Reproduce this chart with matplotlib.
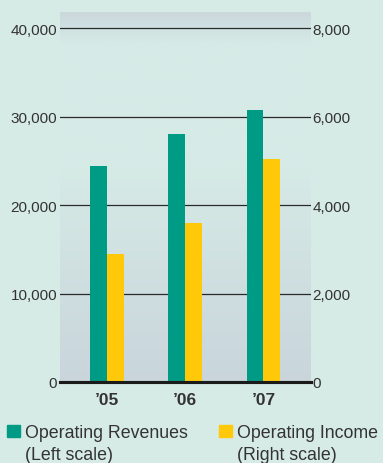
import numpy as np
import matplotlib
matplotlib.use('Agg')
import matplotlib.pyplot as plt
from matplotlib.patches import Rectangle
from matplotlib.colors import to_rgb

plt.rcParams['font.family'] = ['Liberation Sans', 'DejaVu Sans']

# Данные
years = ['\u201905', '\u201906', '\u201907']
revenues = [24400, 28000, 30700]      # левая шкала
op_income = [2900, 3600, 5050]        # правая шкала
left_ticks = [0, 10000, 20000, 30000, 40000]
right_ticks = [0, 2000, 4000, 6000, 8000]

bg = '#d6eae6'
gray = '#c9d5db'
green = '#009b85'
yellow = '#ffc90a'
txt = '#333333'

fig = plt.figure(figsize=(3.83, 4.64), dpi=100, facecolor=bg)
ax = fig.add_axes([60/383, (464-383)/464, (311-60)/383, 370/464])
ax.set_facecolor(bg)

# Градиент фона области графика
f = np.linspace(0, 1, 400)
t = np.zeros_like(f)
t[f < 0.576] = (0.576 - f[f < 0.576]) / 0.576
t[f > 0.914] = 0.85 * (f[f > 0.914] - 0.914) / 0.086
c_bg = np.array(to_rgb(bg))
c_gr = np.array(to_rgb(gray))
img = c_bg[None, :] * (1 - t[:, None]) + c_gr[None, :] * t[:, None]
ax.imshow(img[:, None, :], extent=[0, 1, 0, 1], transform=ax.transAxes,
          aspect='auto', origin='lower', zorder=0)

x = np.arange(len(years))
w = 0.217
ax.bar(x - w/2, revenues, width=w, color=green, zorder=3)
ax.set_ylim(0, 41808)
ax.set_xlim(-0.60, 2.607)
ax.set_yticks(left_ticks)
ax.set_yticklabels([f'{v:,}' for v in left_ticks])
ax.grid(axis='y', color='#2a2a2a', linewidth=0.9, zorder=1)
ax.set_axisbelow(True)
ax.set_xticks(x)
ax.set_xticklabels(years, fontsize=12.5, fontweight='bold', color=txt)
ax.tick_params(axis='y', length=0, pad=2, labelsize=11, labelcolor=txt)
ax.tick_params(axis='x', length=0, pad=7)
for s in ['top', 'left', 'right']:
    ax.spines[s].set_visible(False)
ax.spines['bottom'].set_color('#1a1a1a')
ax.spines['bottom'].set_linewidth(2.2)
ax.spines['bottom'].set_zorder(5)

ax2 = ax.twinx()
ax2.bar(x + w/2, op_income, width=w, color=yellow, zorder=3)
ax2.set_ylim(0, 8361.6)
ax2.set_yticks(right_ticks)
ax2.set_yticklabels([f'{v:,}' for v in right_ticks])
ax2.tick_params(axis='y', length=0, pad=1, labelsize=11, labelcolor=txt)
for s in ax2.spines.values():
    s.set_visible(False)
ax2.axhline(0, color='#1a1a1a', linewidth=2.2, zorder=6, clip_on=False)

# Легенда
W, H = 383, 464
fig.add_artist(Rectangle((7/W, (H-438)/H), 13/W, 12/H, color=green,
                         transform=fig.transFigure))
fig.add_artist(Rectangle((219/W, (H-438)/H), 13/W, 12/H, color=yellow,
                         transform=fig.transFigure))
fs = 12.8
fig.text(25/W, (H-438)/H, 'Operating Revenues', fontsize=fs,
         color=txt, va='baseline', ha='left')
fig.text(25/W, (H-460)/H, '(Left scale)', fontsize=fs,
         color=txt, va='baseline', ha='left')
fig.text(237/W, (H-438)/H, 'Operating Income', fontsize=fs,
         color=txt, va='baseline', ha='left')
fig.text(237/W, (H-460)/H, '(Right scale)', fontsize=fs,
         color=txt, va='baseline', ha='left')

fig.savefig('out.png', dpi=100, facecolor=bg)
